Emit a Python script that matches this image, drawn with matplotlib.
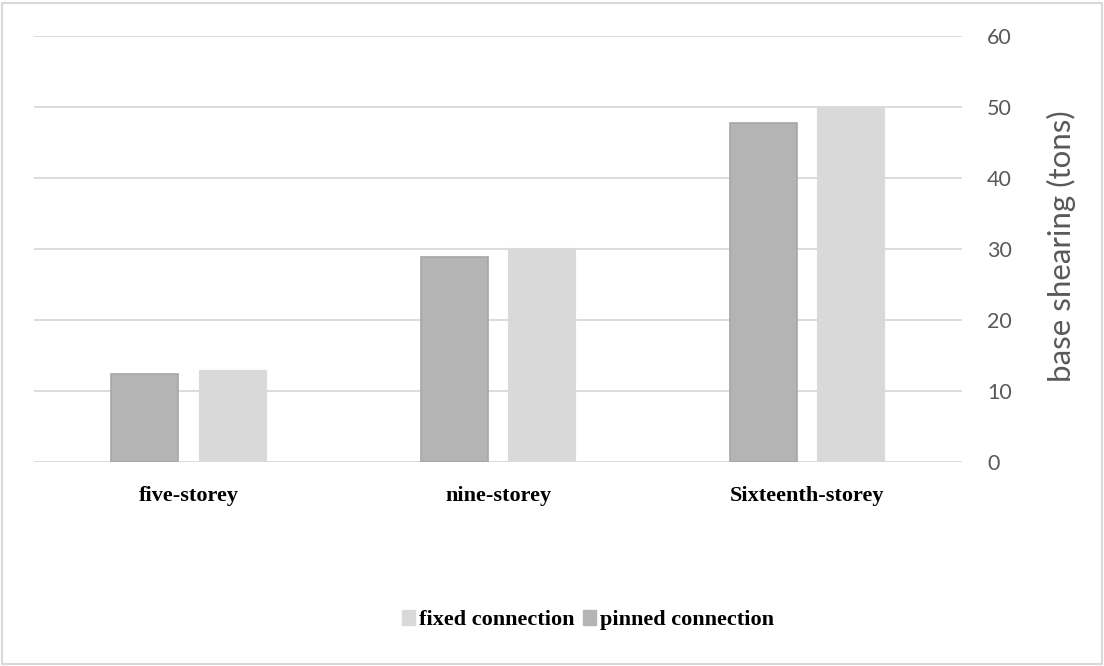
import numpy as np
import matplotlib
matplotlib.use("Agg")
import matplotlib.pyplot as plt
from matplotlib.patches import Patch, Rectangle

# 건물 층수별 밑면 전단력 (tons)
categories = ["five-storey", "nine-storey", "Sixteenth-storey"]
pinned = [12.4, 28.9, 47.8]
fixed = [13.0, 30.1, 50.0]
yticks = [0, 10, 20, 30, 40, 50, 60]

pinned_color = "#b4b4b4"
fixed_color = "#d9d9d9"
grid_color = "#d9d9d9"
text_gray = "#595959"

fig = plt.figure(figsize=(11.04, 6.66), dpi=100)
ax = fig.add_axes([34 / 1104, 1 - 462 / 666, 928 / 1104, 426 / 666])

x = np.arange(len(categories))
width = 0.217
ax.bar(x - 0.1415, pinned, width, color=pinned_color, edgecolor="#a6a6a6",
       linewidth=1.2, zorder=3)
ax.bar(x + 0.1405, fixed, width, color=fixed_color, edgecolor=fixed_color,
       linewidth=0.8, zorder=3)

ax.set_xlim(-0.5, len(categories) - 0.5)
ax.set_ylim(0, 60)
ax.set_yticks(yticks)
ax.yaxis.tick_right()
ax.tick_params(axis="y", length=0, pad=18, labelsize=15.5, labelcolor=text_gray)
for lbl in ax.get_yticklabels():
    lbl.set_fontfamily("Lato")
ax.grid(axis="y", color=grid_color, linewidth=1.3, zorder=0)
for s in ax.spines.values():
    s.set_visible(False)

# 범주 라벨 (굵은 세리프)
ax.set_xticks(x)
ax.set_xticklabels(categories, fontfamily="Liberation Serif",
                   fontweight="bold", fontsize=16)
ax.tick_params(axis="x", length=0, pad=17)

ax.set_ylabel("base shearing (tons)", fontfamily="Lato", fontsize=22.5,
              color=text_gray, rotation=90)
ax.yaxis.set_label_position("right")
ax.yaxis.set_label_coords((1047 - 34) / 928, 0.507)

handles = [Patch(facecolor=fixed_color, edgecolor=fixed_color),
           Patch(facecolor=pinned_color, edgecolor=pinned_color)]
fig.legend(handles, ["fixed connection", "pinned connection"], ncol=2,
           loc="center", bbox_to_anchor=(588 / 1104, 1 - 620 / 666),
           frameon=False, handlelength=0.6, handleheight=0.7,
           handletextpad=0.2, columnspacing=0.35,
           prop={"family": "Liberation Serif", "weight": "bold", "size": 16})

# 바깥 테두리
fig.patches.append(Rectangle((2 / 1104, 2 / 666), 1 - 4 / 1104, 1 - 5 / 666,
                             transform=fig.transFigure, fill=False,
                             edgecolor="#d9d9d9", linewidth=1.5))

fig.savefig("out.png", dpi=100)
